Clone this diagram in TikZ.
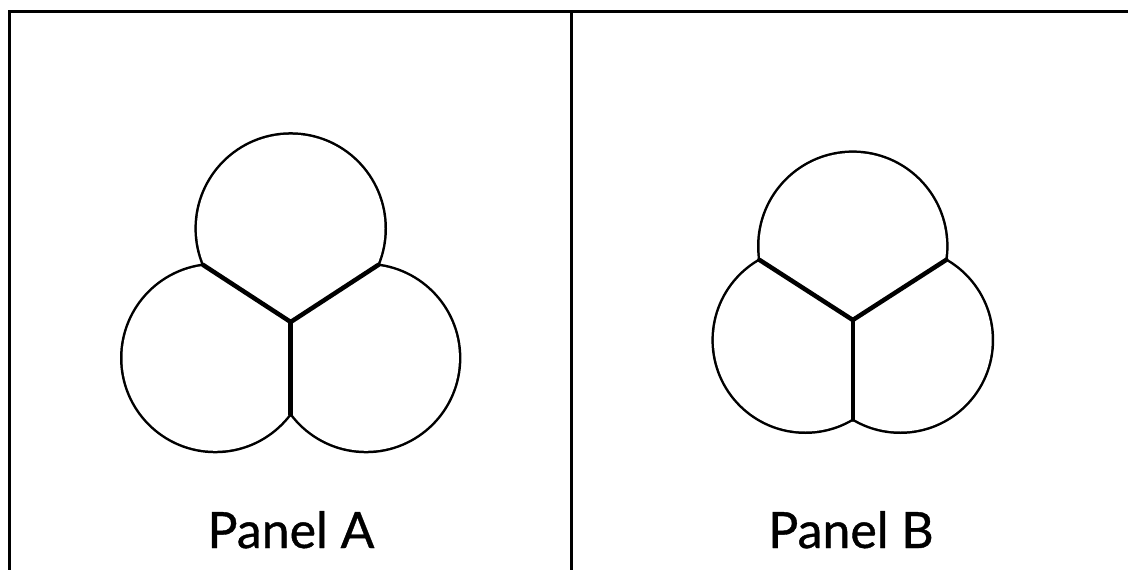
\documentclass[tikz,border=0pt]{standalone}
\usepackage{fontspec}
\setmainfont{Lato}
\newfontfamily\panelfont[FakeBold=0.8]{Lato}
\begin{document}
\begin{tikzpicture}[x=1pt,y=-1pt]
\tikzset{
  frame/.style={line width=3pt},
  outline/.style={line width=5pt},
  cover/.style={fill=white},
  wall/.style={line width=4.5pt, line cap=round},
  plabel/.style={font=\panelfont\fontsize{50}{60}\selectfont, anchor=base, inner sep=0pt}
}
\useasboundingbox (0,0) rectangle (1128,570);
\fill[white] (0,0) rectangle (1128,570);
% frame
\draw[frame] (9,580) -- (9,11.5) -- (1140,11.5);
\draw[frame] (571,11.5) -- (571,580);

% Panel A
\coordinate (AT) at (290.7,228.5);
\coordinate (AL) at (215.3,358);
\coordinate (AR) at (366.1,358);
\draw[outline] (AT) circle[radius=93.8pt] (AL) circle[radius=92.8pt] (AR) circle[radius=92.8pt];
\fill[cover] (AT) circle[radius=93.8pt] (AL) circle[radius=92.8pt] (AR) circle[radius=92.8pt];
\coordinate (AJL) at (202.9,264.8);
\coordinate (AJR) at (378.5,264.8);
\coordinate (AC) at (290.7,322);
\coordinate (AB) at (290.7,414.3);
\draw[wall] (AJL) -- (AC) -- (AJR);
\draw[wall] (AC) -- (AB);

% Panel B
\coordinate (BT) at (852.8,246.2);
\coordinate (BL) at (805.3,340.1);
\coordinate (BR) at (900.3,340.1);
\draw[outline] (BT) circle[radius=93.3pt] (BL) circle[radius=91.4pt] (BR) circle[radius=91.4pt];
\fill[cover] (BT) circle[radius=93.3pt] (BL) circle[radius=91.4pt] (BR) circle[radius=91.4pt];
\coordinate (BJL) at (759.3,259.8);
\coordinate (BJR) at (946.3,259.8);
\coordinate (BC) at (852.8,320);
\coordinate (BB) at (852.8,419.6);
\draw[wall] (BJL) -- (BC) -- (BJR);
\draw[wall] (BC) -- (BB);

% labels
\node[plabel] (la) at (291,548) {Panel A};
\node[plabel] (lb) at (851,548) {Panel B};
\end{tikzpicture}
\end{document}
